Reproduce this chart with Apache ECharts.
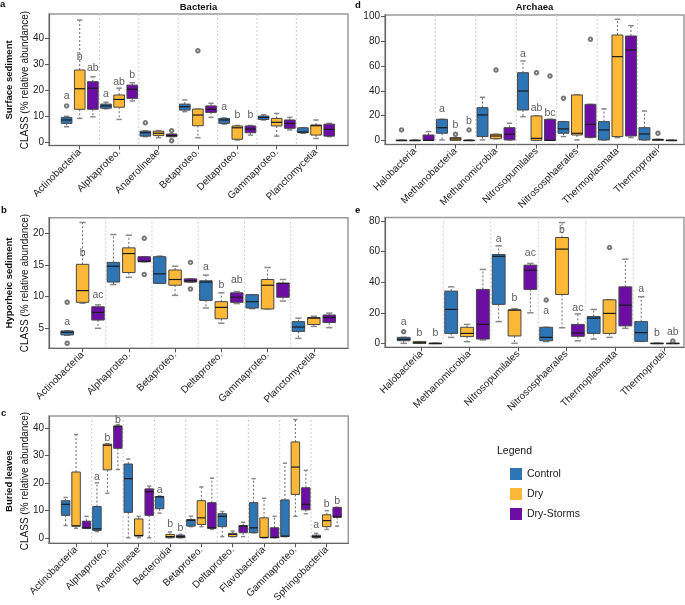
<!DOCTYPE html>
<html>
<head>
<meta charset="utf-8">
<script src="https://cdn.jsdelivr.net/npm/echarts@6/dist/echarts.min.js"></script>
<style>
html,body{margin:0;padding:0;background:#fff;}
#chart{width:685px;height:605px;}
</style>
</head>
<body>
<div id="chart"></div>
<script>
// ---------------- DATA ----------------
// each box: [min, q1, median, q3, max]
const treatments = ['Control', 'Dry', 'Dry-Storms'];

// Panel a: Bacteria, surface sediment
const aCats = ['Actinobacteria','Alphaproteo.','Anaerolineae','Betaproteo.','Deltaproteo.','Gammaproteo.','Planctomycetia'];
const aControl = [[6.0,7.3,8.6,9.6,10.0],[12.9,13.1,14.0,14.7,15.4],[2.2,2.4,3.7,4.3,4.5],[11.8,12.4,13.7,14.7,16.3],[7.0,7.3,8.6,9.2,9.4],[8.6,8.8,9.6,10.1,10.6],[3.5,3.7,4.0,5.6,5.6]];
const aDry = [[9.2,12.7,20.6,27.8,47.0],[8.8,13.5,16.5,18.2,20.8],[1.8,2.6,3.5,4.3,4.5],[1.8,6.4,10.5,12.8,12.8],[0.9,1.2,5.6,6.3,6.5],[2.4,6.3,7.7,9.2,11.1],[1.5,2.8,6.4,6.7,8.6]];
const aStorms = [[9.8,12.7,20.8,23.3,25.2],[15.9,16.9,20.4,22.0,22.9],[2.2,2.2,2.6,3.2,3.2],[9.6,11.5,12.7,14.0,15.0],[2.8,3.7,5.1,6.3,6.5],[4.8,5.4,7.3,8.6,9.6],[2.2,2.4,5.0,7.0,7.3]];
const aOutliers = [[0,0,14.0],[2,0,7.5],[2,2,4.5],[2,2,0.6],[3,1,35.2]]; // [category, treatment, value]
const aLetters = [[0,0,17.8,'a'],[0,1,32.7,'b'],[0,2,28.5,'ab'],[1,0,18.6,'a'],[1,1,23.3,'ab'],[1,2,25.9,'b'],[4,0,13.5,'a'],[4,1,10.5,'b'],[4,2,10.5,'b']];
const aYTicks = [0,10,20,30,40];

// Panel b: Bacteria, hyporheic sediment
const bCats = ['Actinobacteria','Alphaproteo.','Betaproteo.','Deltaproteo.','Gammaproteo.','Planctomycetia'];
const bControl = [[3.9,3.95,4.37,4.58,4.6],[11.9,12.3,14.8,15.4,19.8],[12.1,12.1,13.6,16.3,16.4],[8.2,9.4,12.3,12.5,13.4],[8.1,8.2,9.2,10.3,10.3],[3.4,4.5,5.2,6.05,6.6]];
const bDry = [[8.95,9.1,10.95,15.1,21.7],[13.05,13.8,16.8,17.7,19.7],[10.2,11.8,12.7,14.2,14.8],[5.8,6.5,8.3,9.2,10.6],[8.05,8.05,11.8,12.7,14.6],[5.3,5.6,6.6,6.7,6.9]];
const bStorms = [[5.0,6.3,7.5,8.4,8.7],[15.5,15.5,15.6,16.3,16.3],[12.3,12.3,12.5,12.8,12.8],[8.9,9.1,9.9,10.6,10.8],[9.3,9.9,12.1,12.1,12.7],[5.1,5.9,6.7,7.1,7.4]];
const bOutliers = [[0,0,9.1],[0,0,2.63],[1,2,19.2],[1,2,13.5],[2,2,15.4],[2,2,11.2]];
const bLetters = [[0,0,5.9,'a'],[0,1,16.8,'b'],[0,2,10.3,'ac'],[3,0,14.7,'a'],[3,1,11.8,'b'],[3,2,12.6,'ab']];
const bYTicks = [5,10,15,20];

// Panel c: Bacteria, buried leaves
const cCats = ['Actinobacteria','Alphaproteo.','Anaerolineae','Bacteroidia','Betaproteo.','Deltaproteo.','Flavobacteria','Gammaproteo.','Sphingobacteria'];
const cControl = [[4.6,8.3,12.3,13.6,14.8],[2.4,2.85,3.4,11.5,20.1],[0.2,9.4,21.6,26.9,28.7],[9.1,10.7,15.0,15.1,15.3],[4.2,4.4,6.5,6.8,8.0],[0.6,4.2,7.95,8.9,9.7],[2.0,2.0,3.8,12.9,21.6],[0.6,0.6,0.8,13.9,27.2],[0.2,0.2,0.6,1.1,1.8]];
const cDry = [[3.6,4.4,4.5,24.0,37.6],[16.3,24.8,33.7,34.1,34.3],[0.2,0.8,1.0,7.0,7.95],[0.2,0.2,0.6,1.4,2.3],[4.2,5.0,7.4,13.6,18.6],[0.6,0.6,1.4,1.8,2.6],[0.2,0.2,0.3,7.4,14.5],[7.95,15.9,25.8,34.9,43.0],[3.2,4.2,6.4,8.5,10.0]];
const cStorms = [[3.6,3.6,3.8,6.2,7.95],[24.9,32.6,40.6,40.6,41.2],[0.2,8.3,16.9,17.9,18.9],[0.2,0.2,0.6,1.1,1.4],[3.2,3.6,3.8,12.9,21.8],[0.6,2.0,4.4,4.6,5.8],[0.2,0.2,0.3,3.8,7.95],[8.9,10.3,12.3,18.3,24.6],[4.4,7.6,7.8,11.2,11.2]];
const cOutliers = [];
const cLetters = [[1,0,22.2,'a'],[1,1,36.4,'b'],[1,2,42.7,'b'],[3,0,17.4,'a'],[3,1,5.0,'b'],[3,2,3.8,'b'],[8,0,4.6,'a'],[8,1,12.5,'b'],[8,2,13.3,'b']];
const cYTicks = [0,10,20,30,40];

// Panel d: Archaea, surface sediment
const dCats = ['Halobacteria','Methanobacteria','Methanomicrobia','Nitrosopumilales','Nitrososphaerales','Thermoplasmata','Thermoprotei'];
const dControl = [[0,0,0,0,0],[0.3,5.7,10.2,17.0,17.0],[0.3,3.0,20.5,26.4,34.8],[19.1,24.5,39.9,54.7,64.2],[3.0,5.7,9.2,15.1,15.1],[0.3,0.3,8.4,15.1,25.4],[0.3,0.3,5.1,10.2,23.7]];
const dDry = [[0,0,0,0,0],[0,0,1.1,2.2,2.2],[1.3,1.3,3.5,4.9,4.9],[0,0,1.6,19.7,19.7],[0.3,4.3,5.7,36.7,36.7],[2.2,3.0,67.7,85.2,97.9],[0,0,0.5,0.8,0.8]];
const dStorms = [[0,0,0,4.3,7.0],[0,0,0,0,0],[0.3,0.3,4.9,10.2,13.8],[0,0,0,17.0,17.0],[2.2,2.4,12.9,29.1,29.1],[2.2,3.5,73.1,84.4,92.8],[0,0,0,0,0]];
const dOutliers = [[0,0,8.4],[1,1,4.9],[1,2,8.4],[2,1,56.9],[3,1,54.7],[3,2,52.0],[4,0,34.0],[4,2,81.7],[6,1,5.7]];
const dLetters = [[1,0,25.1,'a'],[1,1,11.9,'b'],[1,2,15.9,'b'],[3,0,69.6,'a'],[3,1,26.4,'ab'],[3,2,21.8,'bc']];
const dYTicks = [0,20,40,60,80,100];

// Panel e: Archaea, hyporheic sediment
const eCats = ['Halobacteria','Methanomicrobia','Nitrosopumilales','Nitrososphaerales','Thermoplasmata','Thermoprotei'];
const eControl = [[0,1.7,2.6,3.9,3.9],[3.9,6.5,22.2,34.2,37.0],[14.2,25.5,57.0,58.2,63.8],[1.1,1.7,3.9,10.5,10.5],[2.8,6.5,16.5,17.6,22.2],[1.3,1.3,7.0,14.2,30.5]];
const eDry = [[0,0,0.4,1.1,1.1],[1.1,4.4,6.5,10.5,12.4],[0,4.8,21.8,21.8,22.7],[10.2,32.0,61.7,69.3,79.1],[3.9,6.5,19.6,28.5,28.5],[0,0,0,0,0]];
const eStorms = [[0,0,0,0,0],[2.2,2.8,12.4,35.3,48.4],[20.0,35.3,47.9,51.2,52.3],[1.7,4.6,6.8,12.4,19.2],[9.8,11.4,25.0,37.0,55.1],[0,0,0,0,0]];
const eOutliers = [[0,0,7.6],[3,0,28.3],[4,1,62.7],[5,2,1.5]];
const eLetters = [[0,0,13.7,'a'],[0,1,6.5,'b'],[0,2,6.5,'b'],[2,0,68,'a'],[2,1,29.4,'b'],[2,2,59.3,'ac'],[3,0,21.4,'a'],[3,1,74.1,'b'],[3,2,22.9,'ac'],[5,0,35.7,'a'],[5,1,6.5,'b'],[5,2,7.2,'ab']];
const eYTicks = [0,20,40,60,80];

// ---------------- STYLE / LAYOUT ----------------
const COLORS = ['#2E75B6', '#FDB838', '#6C0EA3'];
const FONT = '"Liberation Sans", Arial, Helvetica, sans-serif';
const BOX_W = 0.27;       // box width, in category units
const DODGE = 1 / 3;      // offset between treatments, in category units

const panels = [
  {cats:aCats, boxes:[aControl,aDry,aStorms], out:aOutliers, lets:aLetters, yt:aYTicks,
   L:49, T:14, R:348, B:145.5, ymin:-1.2, ymax:49.3, xmin:-0.78, xmax:6.81},
  {cats:bCats, boxes:[bControl,bDry,bStorms], out:bOutliers, lets:bLetters, yt:bYTicks,
   L:49, T:217.7, R:348, B:348.3, ymin:1.84, ymax:22.46, xmin:-0.726, xmax:5.739},
  {cats:cCats, boxes:[cControl,cDry,cStorms], out:cOutliers, lets:cLetters, yt:cYTicks,
   L:49, T:416, R:348.3, B:545.7, ymin:-1.8, ymax:44.3, xmin:-0.864, xmax:8.689},
  {cats:dCats, boxes:[dControl,dDry,dStorms], out:dOutliers, lets:dLetters, yt:dYTicks,
   L:385, T:15, R:684, B:144.5, ymin:-3.4, ymax:101.4, xmin:-0.742, xmax:6.644},
  {cats:eCats, boxes:[eControl,eDry,eStorms], out:eOutliers, lets:eLetters, yt:eYTicks,
   L:385, T:217.5, R:684, B:347.3, ymin:-2.6, ymax:82.4, xmin:-0.727, xmax:5.568,
   xt:[0.04,1.05,2.08,3.09,4.13,5.16]}
];

function boxRenderer(color) {
  return function (params, api) {
    const x = api.value(0);
    const mn = api.value(1), q1 = api.value(2), md = api.value(3), q3 = api.value(4), mx = api.value(5);
    const bw = api.size([BOX_W, 0])[0];
    const cw = bw * 0.5;
    const pMn = api.coord([x, mn]), pQ1 = api.coord([x, q1]), pMd = api.coord([x, md]);
    const pQ3 = api.coord([x, q3]), pMx = api.coord([x, mx]);
    const cx = pMd[0];
    const dash = {stroke:'#6a6a6a', lineWidth:1, lineDash:[2,2]};
    const capS = {stroke:'#8a8a8a', lineWidth:1.5};
    const ch = [];
    if (mx > q3) ch.push({type:'line', shape:{x1:cx, y1:pQ3[1], x2:cx, y2:pMx[1]}, style:dash});
    if (mn < q1) ch.push({type:'line', shape:{x1:cx, y1:pQ1[1], x2:cx, y2:pMn[1]}, style:dash});
    ch.push({type:'line', shape:{x1:cx-cw/2, y1:pMx[1], x2:cx+cw/2, y2:pMx[1]}, style:capS});
    ch.push({type:'line', shape:{x1:cx-cw/2, y1:pMn[1], x2:cx+cw/2, y2:pMn[1]}, style:capS});
    ch.push({type:'rect', shape:{x:cx-bw/2, y:pQ3[1], width:bw, height:Math.max(pQ1[1]-pQ3[1], 0.5)},
             style:{fill:color, stroke:'#474747', lineWidth:1}});
    ch.push({type:'line', shape:{x1:cx-bw/2, y1:pMd[1], x2:cx+bw/2, y2:pMd[1]}, style:{stroke:'#1a1a1a', lineWidth:1.2}});
    return {type:'group', children:ch};
  };
}

function sepRenderer(params, api) {
  const x = api.coord([api.value(0), 0])[0];
  const cs = params.coordSys;
  return {type:'line', shape:{x1:x, y1:cs.y, x2:x, y2:cs.y+cs.height},
          style:{stroke:'#cfcfcf', lineWidth:1, lineDash:[2,2]}};
}

const grids = [], xAxes = [], yAxes = [], series = [];
panels.forEach((p, gi) => {
  grids.push({left:p.L, top:p.T, width:p.R-p.L, height:p.B-p.T, show:true,
              borderColor:'#9a9a9a', borderWidth:1.5, backgroundColor:'transparent'});
  const xt = p.xt || p.cats.map((c, i) => i);
  xAxes.push({
    gridIndex:gi, type:'value', min:p.xmin, max:p.xmax,
    axisLine:{show:true, onZero:false, lineStyle:{color:'#666', width:1.2}},
    axisTick:{show:true, customValues:xt, length:4, lineStyle:{color:'#555'}},
    axisLabel:{customValues:xt, rotate:45, margin:5, fontSize:10, color:'#222', fontFamily:FONT,
      formatter:(v) => { let b = 0; xt.forEach((t, i) => { if (Math.abs(t - v) < Math.abs(xt[b] - v)) b = i; }); return p.cats[b]; }},
    splitLine:{show:false}
  });
  yAxes.push({
    gridIndex:gi, type:'value', min:p.ymin, max:p.ymax,
    axisLine:{show:true, onZero:false, lineStyle:{color:'#666', width:1.2}},
    axisTick:{show:true, customValues:p.yt, length:4, lineStyle:{color:'#555'}},
    axisLabel:{customValues:p.yt, margin:5, fontSize:10, color:'#222', fontFamily:FONT},
    splitLine:{show:false}
  });
  // category separators
  series.push({type:'custom', xAxisIndex:gi, yAxisIndex:gi, silent:true, z:1,
    data:p.cats.slice(1).map((c, i) => [i + 0.5, 0]), renderItem:sepRenderer});
  // boxes
  p.boxes.forEach((arr, t) => {
    series.push({type:'custom', name:treatments[t], xAxisIndex:gi, yAxisIndex:gi, z:3,
      itemStyle:{color:COLORS[t]},
      encode:{x:0, y:[1,2,3,4,5]},
      data:arr.map((b, i) => [i + (t - 1) * DODGE].concat(b)),
      renderItem:boxRenderer(COLORS[t])});
  });
  // outliers
  series.push({type:'scatter', xAxisIndex:gi, yAxisIndex:gi, z:4, silent:true,
    symbol:'emptyCircle', symbolSize:3.5,
    itemStyle:{color:'#555', borderColor:'#555', borderWidth:0.8},
    data:p.out.map(o => [o[0] + (o[1] - 1) * DODGE, o[2]])});
  // significance letters
  series.push({type:'scatter', xAxisIndex:gi, yAxisIndex:gi, z:5, silent:true,
    symbolSize:1, itemStyle:{color:'rgba(0,0,0,0)'},
    label:{show:true, position:'inside', formatter:'{b}', fontSize:10.5, color:'#333', fontFamily:FONT},
    data:p.lets.map(l => ({name:l[3], value:[l[0] + (l[1] - 1) * DODGE, l[2]]}))});
});

function txt(x, y, s, size, weight, align, rot) {
  return {type:'text', x:x, y:y, rotation:rot || 0, z:10,
    style:{text:s, fill:'#111', font:(weight || 'normal') + ' ' + size + 'px ' + FONT,
      align:align || 'center', verticalAlign:'middle', textAlign:align || 'center', textVerticalAlign:'middle'}};
}

const graphic = [
  txt(198.5, 7, 'Bacteria', 9.5, 'bold'),
  txt(534.5, 7, 'Archaea', 9.5, 'bold'),
  txt(0, 4, 'a', 9.5, 'bold', 'left'),
  txt(1, 210, 'b', 9.5, 'bold', 'left'),
  txt(1, 413, 'c', 9.5, 'bold', 'left'),
  txt(355, 5, 'd', 9.5, 'bold', 'left'),
  txt(355, 210, 'e', 9.5, 'bold', 'left'),
  txt(9, 80, 'Surface sediment', 9.5, 'bold', 'center', Math.PI/2),
  txt(25, 80, 'CLASS (% relative abundance)', 10, 'normal', 'center', Math.PI/2),
  txt(9, 283, 'Hyporheic sediment', 9.5, 'bold', 'center', Math.PI/2),
  txt(25, 283, 'CLASS (% relative abundance)', 10, 'normal', 'center', Math.PI/2),
  txt(9, 481, 'Buried leaves', 9.5, 'bold', 'center', Math.PI/2),
  txt(25, 481, 'CLASS (% relative abundance)', 10, 'normal', 'center', Math.PI/2),
  txt(497, 451, 'Legend', 10.5, 'normal', 'left')
];

const chart = echarts.init(document.getElementById('chart'), null, {renderer:'canvas'});
chart.setOption({
  animation:false,
  backgroundColor:'#fff',
  textStyle:{fontFamily:FONT},
  grid:grids, xAxis:xAxes, yAxis:yAxes, series:series, graphic:graphic,
  legend:{data:treatments, orient:'vertical', left:505, top:463, icon:'rect',
    itemWidth:12, itemHeight:12, itemGap:8, selectedMode:false,
    textStyle:{fontSize:10.5, color:'#222', fontFamily:FONT}}
});
</script>
</body>
</html>
